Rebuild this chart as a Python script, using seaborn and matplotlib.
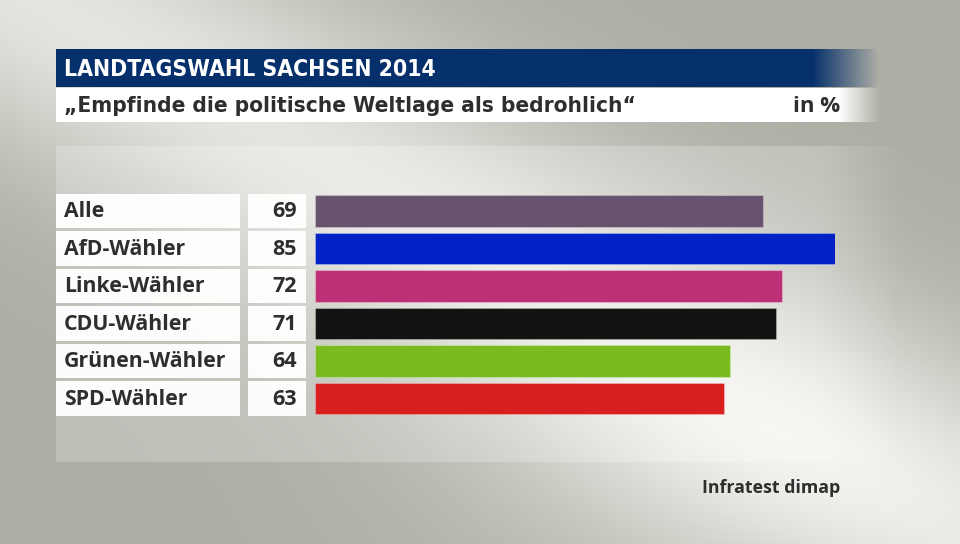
import numpy as np
import pandas as pd
import matplotlib.pyplot as plt
import matplotlib.transforms as mtransforms
from matplotlib.patches import Rectangle
import seaborn as sns

# chart data
groups = ['Alle', 'AfD-Wähler', 'Linke-Wähler', 'CDU-Wähler', 'Grünen-Wähler', 'SPD-Wähler']
values = [69, 85, 72, 71, 64, 63]
bar_colors = ['#675370', '#0021c4', '#bd3075', '#121212', '#78bc1e', '#d81f1e']

title = 'LANDTAGSWAHL SACHSEN 2014'
subtitle = '„Empfinde die politische Weltlage als bedrohlich“'
unit = 'in %'
source = 'Infratest dimap'

W, H = 960, 544
sns.set_style("white")
plt.rcParams['font.family'] = ['Open Sans', 'DejaVu Sans']

fig = plt.figure(figsize=(W / 100, H / 100), dpi=100)


def fx(x):
    return x / W


def fy(y):
    return 1 - y / H


# ---- background: diagonal light band, darker corners, header bars composited in
u = np.linspace(0, 1, W)[None, :]
v = np.linspace(0, 1, H)[:, None]
d = u - v - 0.04
w = np.exp(-(d / 0.32) ** 2)
spot = np.exp(-(((u - 0.72) / 0.3) ** 2 + ((v - 0.88) / 0.3) ** 2))
w = np.clip(0.76 * w + 0.25 * spot, 0, 1)
dark = np.array([0.68, 0.68, 0.645])
light = np.array([0.965, 0.965, 0.95])
img = dark[None, None, :] * (1 - w[..., None]) + light[None, None, :] * w[..., None]

xs = np.arange(W)


def blend(img, x0, x1, y0, y1, color, alpha, fade0, fade1):
    a = np.where(xs < fade0, 1.0, np.clip(1 - (xs - fade0) / (fade1 - fade0), 0, 1)) * alpha
    a = np.where(xs < x0, 0, a)
    a = np.where(xs > x1, 0, a)
    col = np.array(color)
    img[y0:y1] = img[y0:y1] * (1 - a[None, :, None]) + col[None, None, :] * a[None, :, None]
    return img


# light panel behind bars
img = blend(img, 56, 960, 146, 462, (1, 1, 1), 0.22, 820, 900)
# navy title bar
img = blend(img, 56, 960, 49, 87, (0.024, 0.19, 0.42), 1.0, 812, 878)
# white subtitle bar
img = blend(img, 56, 960, 88, 122, (1, 1, 1), 1.0, 838, 880)

bg = fig.add_axes([0, 0, 1, 1], zorder=0)
bg.imshow(img, aspect='auto', extent=(0, 1, 0, 1), interpolation='bilinear')
bg.set_axis_off()

# ---- bars
row_top, row_pitch = 192.25, 37.5
ax = fig.add_axes([fx(315), fy(row_top + row_pitch * len(groups)), fx(835) - fx(315),
                   row_pitch * len(groups) / H], zorder=2)
ax.patch.set_alpha(0)
df = pd.DataFrame({'group': groups, 'value': values})
sns.barplot(data=df, x='value', y='group', hue='group', palette=bar_colors,
            legend=False, orient='h', width=0.853, saturation=1, ax=ax,
            edgecolor=(1, 1, 1, 0.25), linewidth=0.8)
ax.set_xlim(0, 80.1)
ax.set_ylim(len(groups) - 0.5, -0.5)
ax.set_axis_off()

# label boxes and texts, placed along the category axis
trans = mtransforms.blended_transform_factory(fig.transFigure, ax.transData)
box_h = 0.907
for i, (g, val) in enumerate(zip(groups, values)):
    fig.patches.append(Rectangle((fx(56), i - box_h / 2), fx(240) - fx(56), box_h,
                                 transform=trans, facecolor='white', edgecolor='none',
                                 zorder=1, alpha=0.97))
    fig.patches.append(Rectangle((fx(248), i - box_h / 2), fx(306) - fx(248), box_h,
                                 transform=trans, facecolor='white', edgecolor='none',
                                 zorder=1, alpha=0.97))
    fig.text(fx(64), i + 0.02, g, transform=trans, ha='left', va='center',
             fontsize=15.3, fontweight='bold', color='#2e2e2e', zorder=3)
    fig.text(fx(297), i + 0.02, str(val), transform=trans, ha='right', va='center',
             fontsize=15.5, fontweight='bold', color='#2e2e2e', zorder=3)

# ---- header texts
fig.text(fx(64), fy(69), title, ha='left', va='center', fontsize=16.5,
         fontweight='bold', color='white', fontstretch='condensed',
         family=['DejaVu Sans'], zorder=3)
fig.text(fx(64), fy(106), subtitle, ha='left', va='center', fontsize=16.2,
         fontweight='bold', color='#2e2e2e', fontstretch='condensed',
         family=['DejaVu Sans'], zorder=3)
fig.text(fx(840), fy(106), unit, ha='right', va='center', fontsize=16,
         fontweight='bold', color='#2e2e2e', zorder=3)
fig.text(fx(840), fy(488), source, ha='right', va='center', fontsize=12.8,
         fontweight='bold', color='#2e2e2e', zorder=3)

fig.savefig('out.png', dpi=100)
